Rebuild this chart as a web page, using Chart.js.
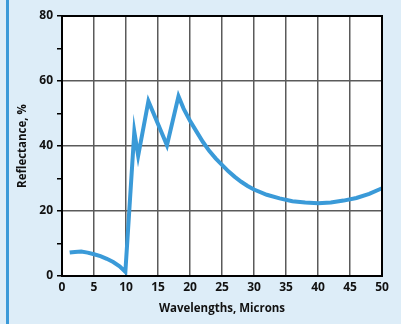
<!DOCTYPE html>
<html>
<head>
<meta charset="utf-8">
<script src="https://cdn.jsdelivr.net/npm/chart.js@4.4.0/dist/chart.umd.min.js"></script>
<style>
    html, body { margin: 0; padding: 0; background: #ddedf8; }
    #wrap { position: relative; width: 401px; height: 324px; }
    #bar { position: absolute; left: 6px; top: 0; width: 2.5px; height: 324px; background: #3b9ad9; }
</style>
</head>
<body>
<div id="wrap">
    <div id="bar"></div>
    <canvas id="reflChart" width="401" height="324"></canvas>
</div>
<script>
// Wavelength (microns) and reflectance (%)
const wavelengths = [1.2, 2, 3, 4, 5, 6, 7, 8, 9, 9.9, 11.3, 11.9, 13.5, 16.4, 18.2, 19, 20, 21, 22, 23, 24, 25, 26, 27, 28, 29, 30, 32, 34, 36, 38, 40, 42, 44, 46, 48, 50];
const reflectance = [7.2, 7.4, 7.5, 7.2, 6.7, 6.1, 5.3, 4.3, 3.0, 1.3, 44.4, 37.0, 53.8, 40.2, 55.3, 51.5, 47.8, 44.5, 41.3, 38.5, 36.2, 34.2, 32.2, 30.5, 29.0, 27.7, 26.6, 25.0, 23.9, 23.0, 22.6, 22.4, 22.6, 23.2, 24.0, 25.3, 27.0];
const yLabels = [0, 20, 40, 60, 80];

const points = wavelengths.map((w, i) => ({ x: w, y: reflectance[i] }));

// white plot area + black frame round it
const framePlugin = {
    id: 'frame',
    beforeDraw(chart) {
        const { ctx, chartArea: a } = chart;
        ctx.save();
        ctx.fillStyle = '#ffffff';
        ctx.fillRect(a.left, a.top, a.right - a.left, a.bottom - a.top);
        ctx.restore();
    },
    afterDatasetsDraw(chart) {
        const { ctx, chartArea: a } = chart;
        ctx.save();
        ctx.strokeStyle = '#000';
        ctx.lineWidth = 2;
        ctx.strokeRect(a.left, a.top, a.right - a.left, a.bottom - a.top);
        ctx.restore();
    }
};

const ctx = document.getElementById('reflChart').getContext('2d');
new Chart(ctx, {
    type: 'line',
    data: {
        datasets: [{
            data: points,
            borderColor: '#3a9ad8',
            borderWidth: 4,
            pointRadius: 0,
            tension: 0,
            fill: false,
            clip: false
        }]
    },
    options: {
        responsive: false,
        animation: false,
        layout: { padding: { left: 12, right: 19, top: 16, bottom: 4 } },
        plugins: { legend: { display: false }, tooltip: { enabled: false } },
        scales: {
            x: {
                type: 'linear',
                min: 0,
                max: 50,
                afterFit(scale) { scale.height = 44; },
                ticks: {
                    stepSize: 5,
                    padding: 4,
                    color: '#111',
                    font: { family: 'Open Sans', size: 12, weight: 'bold' }
                },
                grid: { color: '#5a5a5a', lineWidth: 1.5, drawTicks: false },
                border: { color: '#000', width: 2 },
                title: {
                    display: true,
                    text: 'Wavelengths, Microns',
                    color: '#111',
                    padding: { top: 0, bottom: 4 },
                    font: { family: 'Open Sans', size: 11.5, weight: 'bold' }
                }
            },
            y: {
                min: 0,
                max: 80,
                afterFit(scale) { scale.width = 50; },
                ticks: {
                    stepSize: 10,
                    autoSkip: false,
                    padding: 4,
                    color: '#111',
                    font: { family: 'Open Sans', size: 12, weight: 'bold' },
                    callback: v => yLabels.includes(v) ? String(v) : ''
                },
                grid: {
                    color: c => (c.tick && c.tick.value % 20 === 0) ? '#5a5a5a' : 'rgba(0,0,0,0)',
                    tickColor: '#000',
                    lineWidth: 1.5,
                    tickLength: 5
                },
                border: { color: '#000', width: 2 },
                title: {
                    display: true,
                    text: 'Reflectance, %',
                    color: '#111',
                    padding: { top: 4, bottom: 0 },
                    font: { family: 'Open Sans', size: 11.5, weight: 'bold' }
                }
            }
        }
    },
    plugins: [framePlugin]
});
</script>
</body>
</html>
